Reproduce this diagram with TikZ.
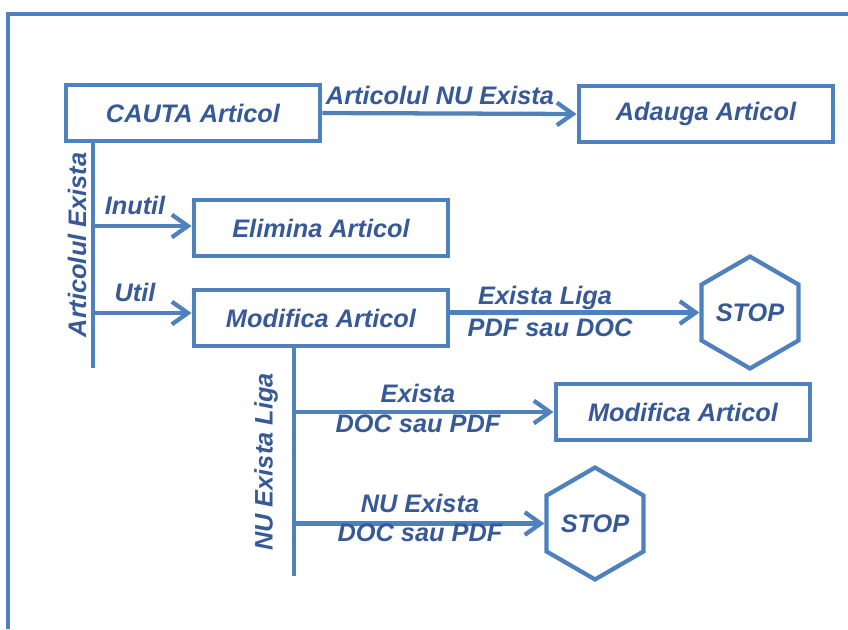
\documentclass[tikz,border=0pt]{standalone}
\usepackage{fontspec}
\setmainfont{Liberation Sans}
\usetikzlibrary{arrows.meta,shapes.geometric}
\definecolor{ln}{HTML}{4F81BD}
\definecolor{tx}{HTML}{375A97}
\begin{document}
\begin{tikzpicture}[x=0.75pt,y=-0.75pt,
  every node/.style={text=tx,font=\fontsize{19}{22}\selectfont\bfseries\itshape},
  box/.style={draw=ln,line width=3.2pt,fill=white,minimum width=191pt,minimum height=42pt,inner sep=0pt},
  hexa/.style={draw=ln,line width=3.2pt,fill=white,regular polygon,regular polygon sides=6,shape border rotate=30,minimum size=77pt,inner sep=0pt},
  conn/.style={draw=ln,line width=3.2pt},
  arr/.style={conn,-{Straight Barb[length=12pt,width=17pt]}},
  lbl/.style={inner sep=0pt}]
\useasboundingbox (0,0) rectangle (848,629);
% frame
\draw[ln,line width=3pt] (848,14) -- (8,14) -- (8,629);
% nodes
\node[box] (cauta) at (193,113) {CAUTA Articol};
\node[box] (adauga) at (706,114) {Adauga Articol};
\node[box] (elim) at (321,228) {Elimina Articol};
\node[box] (mod) at (321,318) {Modifica Articol};
\node[hexa] (stop1) at (750,312.5) {STOP};
\node[box] (mod2) at (683,412) {Modifica Articol};
\node[hexa] (stop2) at (595,523.5) {STOP};
\coordinate (v1end) at (93,368);
\coordinate (v2end) at (294,576);
% connectors
\draw[arr] (cauta.east) -- (adauga.west);
\draw[conn] (cauta.south -| v1end) -- (v1end);
\draw[arr] (v1end |- 0,226) -- (elim.west |- 0,226);
\draw[arr] (v1end |- 0,313) -- (mod.west |- 0,313);
\draw[arr] (stop1.west -| mod.east) -- (stop1.west);
\draw[conn] (mod.south -| v2end) -- (v2end);
\draw[arr] (v2end |- mod2.west) -- (mod2.west);
\draw[arr] (v2end |- stop2.west) -- (stop2.west);
% labels
\node[lbl] (l1) at (440,95) {Articolul NU Exista};
\node[lbl,rotate=90] (l2) at (77,245) {Articolul Exista};
\node[lbl] (l3) at (135,205) {Inutil};
\node[lbl] (l4) at (135,292) {Util};
\node[lbl] (l5) at (545,298) {Exista Liga};
\node[lbl] (l6) at (550,328) {PDF sau DOC};
\node[lbl,rotate=90] (l7) at (266,462) {NU Exista Liga};
\node[lbl] (l8) at (418,393) {Exista};
\node[lbl] (l9) at (418,424) {DOC sau PDF};
\node[lbl] (l10) at (420,503) {NU Exista};
\node[lbl] (l11) at (420,533) {DOC sau PDF};
\end{tikzpicture}
\end{document}
